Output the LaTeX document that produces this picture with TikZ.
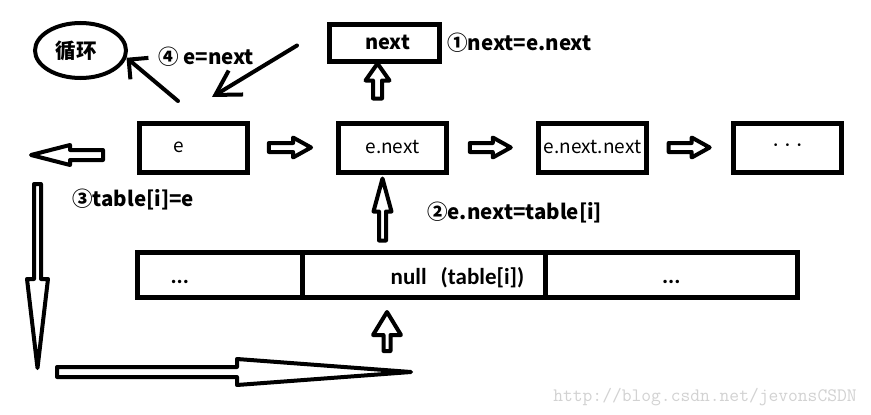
\documentclass[tikz,border=0pt]{standalone}
\usepackage{fontspec}
\setmainfont{Noto Sans CJK SC}
\newfontfamily\slotfont{Carlito}
\usetikzlibrary{arrows.meta,positioning,calc,shapes.geometric}
\definecolor{ink}{RGB}{0,0,0}
\definecolor{wmgray}{RGB}{210,210,210}
\tikzset{
  nd/.style={draw=ink,line width=5pt,minimum width=108pt,minimum height=49pt,inner sep=0pt,font=\fontsize{19}{19}\selectfont},
  slot/.style={draw=ink,line width=5pt,minimum height=45pt,inner sep=0pt,outer sep=0pt},
  slottxt/.style={font=\slotfont\bfseries\fontsize{23}{23}\selectfont},
  tag/.style={anchor=west,inner sep=0pt,font=\fontsize{20.5}{20.5}\selectfont\bfseries},
  jump/.style={draw=ink,line width=4pt,line cap=round,-{Straight Barb[length=#1,width=28pt]}},
  hollow/.style n args={3}{draw=ink,fill=white,line width=4pt,line join=round,to path={
    ($(\tikztostart)!#1!90:(\tikztotarget)$)
    -- ($(\tikztotarget)!#3!(\tikztostart)!#1!-90:(\tikztostart)$)
    -- ($(\tikztotarget)!#3!(\tikztostart)!#2!-90:(\tikztostart)$)
    -- (\tikztotarget)
    -- ($(\tikztotarget)!#3!(\tikztostart)!#2!90:(\tikztostart)$)
    -- ($(\tikztotarget)!#3!(\tikztostart)!#1!90:(\tikztostart)$)
    -- ($(\tikztostart)!#1!-90:(\tikztotarget)$)
    -- cycle}}
}

\begin{document}
\begin{tikzpicture}[x=1pt,y=-1pt]
\path[use as bounding box,fill=white] (0,0) rectangle (871,415);

% linked list
\node[nd] (e) at (193.5,147.5) {e\hspace*{30pt}};
\node[nd,right=86pt of e] (enext) {e.next};
\node[nd,right=87pt of enext] (enn) {e.next.next};
\node[nd,right=82pt of enn] (more) {\slotfont ·\hspace{7pt}·\hspace{7pt}·};
\node[nd,minimum width=110pt,minimum height=37pt,font=\fontsize{20}{20}\selectfont\bfseries,above=57pt of enext,xshift=-8pt] (next) {\hspace*{6pt}next};
\node[draw=ink,ellipse,line width=4pt,minimum width=91pt,minimum height=55pt,inner sep=0pt,font=\fontsize{20.5}{20.5}\selectfont\bfseries] (loop) at (80.5,50.5) {循环\hspace*{8pt}};

% table
\node[slot,minimum width=164.5pt] (c1) at (219.75,275) {};
\node[slot,minimum width=243pt,right=0pt of c1] (c2) {};
\node[slot,minimum width=252.5pt,right=0pt of c2] (c3) {};
\node[slottxt] (t1) at ($(c1)+(-40,7)$) {...};
\node[slottxt] (t2) at ($(c2)+(34,3)$) {null\hspace{14pt}(table[i])};
\node[slottxt] (t3) at ($(c3)+(0,7)$) {...};

% steps
\node[tag] (l1) at (447,43) {①next=e.next};
\node[tag] (l2) at (427,213) {②e.next=table[i]};
\node[tag] (l3) at (72,200) {③table[i]=e};
\node[tag] (l4) at (158,57) {④ e=next};

% block arrows
\coordinate (h1s) at ($(e.east)!0.22!(enext.west)$);
\coordinate (h1e) at ($(e.east)!0.71!(enext.west)$);
\coordinate (h2s) at ($(enext.east)!0.24!(enn.west)$);
\coordinate (h2e) at ($(enext.east)!0.71!(enn.west)$);
\coordinate (h3s) at ($(enn.east)!0.24!(more.west)$);
\coordinate (h3e) at ($(enn.east)!0.74!(more.west)$);
\draw[hollow={4.5pt}{10pt}{18pt}] (h1s) to (h1e);
\draw[hollow={4.5pt}{10pt}{18pt}] (h2s) to (h2e);
\draw[hollow={4.5pt}{10pt}{18pt}] (h3s) to (h3e);

\coordinate (u1s) at ($(enext.north)+(-15,-22)$);
\coordinate (u1e) at (u1s |- next.south);
\draw[hollow={4.5pt}{12pt}{17pt}] (u1s) to (u1e);
\coordinate (u2s) at ($(enext.south)+(-10,66)$);
\coordinate (u2e) at ($(u2s |- enext.south)+(0,4)$);
\draw[hollow={3.5pt}{9pt}{33pt}] (u2s) to (u2e);
\coordinate (u3s) at ($(c2.south)+(-36.5,53.5)$);
\coordinate (u3e) at ($(c2.south)+(-36.5,14.5)$);
\draw[hollow={3.5pt}{14pt}{23pt}] (u3s) to (u3e);

\coordinate (ls) at ($(e.west)+(-34,7.5)$);
\coordinate (le) at ($(e.west)+(-106,7.5)$);
\draw[hollow={5pt}{10pt}{39pt}] (ls) to (le);
\coordinate (ds) at (37.5,184);
\coordinate (de) at (37.5,368);
\draw[hollow={3.5pt}{10.5pt}{89pt}] (ds) to (de);
\coordinate (bs) at (57,372);
\coordinate (be) at (411,372);
\draw[hollow={5pt}{13pt}{174pt}] (bs) to (be);

% e = next, loop again
\coordinate (j1s) at ($(e.north)+(-15.5,-19.5)$);
\draw[jump=14pt] (j1s) -- (loop.-9);
\coordinate (j2s) at ($(next.west)+(-30,3)$);
\coordinate (j2e) at ($(e.north)+(18.5,-23.5)$);
\draw[jump=24pt] (j2s) -- (j2e);

\node[font=\ttfamily\fontsize{19}{19}\selectfont,text=wmgray] (wm) at (705,397) {http://blog.csdn.net/jevonsCSDN};
\end{tikzpicture}
\end{document}
